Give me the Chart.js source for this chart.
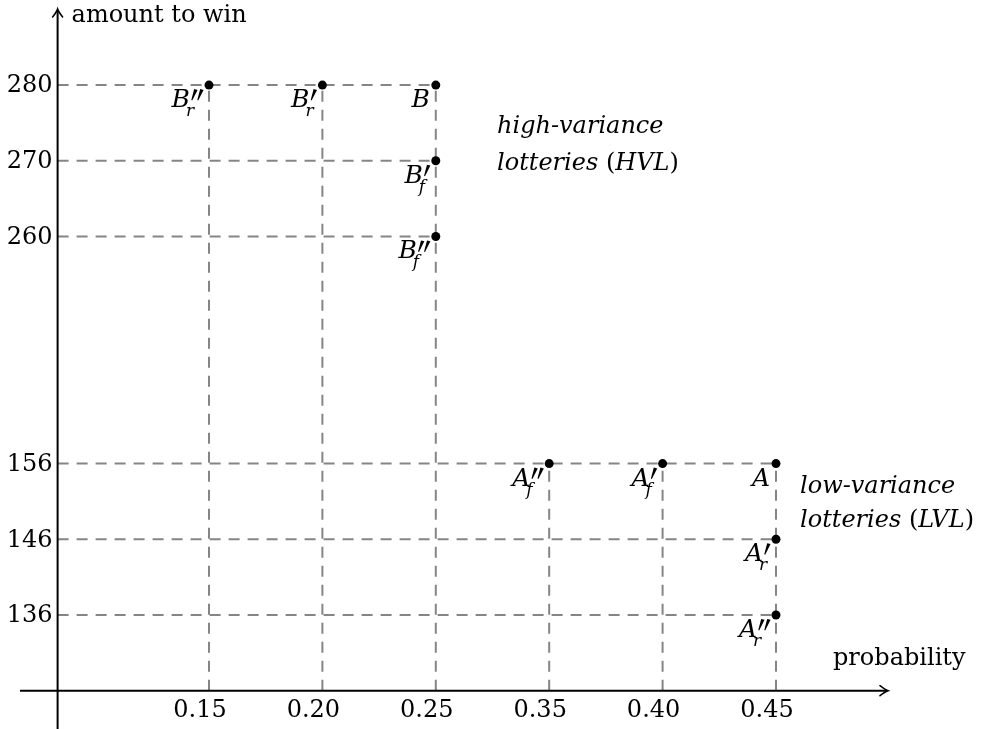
<!DOCTYPE html>
<html>
<head>
<meta charset="utf-8">
<script src="https://cdn.jsdelivr.net/npm/chart.js@4.4.0/dist/chart.umd.min.js"></script>
<style>
html,body{margin:0;padding:0;background:#fff;}
#wrap{width:997px;height:729px;}
</style>
</head>
<body>
<div id="wrap"><canvas id="c" width="997" height="729"></canvas></div>
<script>
// ---- data ----
const xTicks = [0.15, 0.20, 0.25, 0.35, 0.40, 0.45];
const yTicks = [136, 146, 156, 260, 270, 280];
const lotteryNames = ["B''_r", "B'_r", "B", "B'_f", "B''_f", "A''_f", "A'_f", "A", "A'_r", "A''_r"];
const probabilities = [0.15, 0.20, 0.25, 0.25, 0.25, 0.35, 0.40, 0.45, 0.45, 0.45];
const amounts = [280, 280, 280, 270, 260, 156, 156, 156, 146, 136];
const xAxisTitle = 'probability';
const yAxisTitle = 'amount to win';

// ---- broken-axis mapping (value -> scale position) ----
const Y_BREAK_GAP = 2;      // extra units in the axis break between 156 and 260
const X_ORIGIN = -1.335;    // where the vertical axis crosses
function xPos(v){ return xTicks.findIndex(t => Math.abs(t - v) < 1e-9); }
function yPos(v){ const i = yTicks.indexOf(v); return i + 1 + (i >= 3 ? Y_BREAK_GAP : 0); }

const SERIF = '"DejaVu Serif", serif';
const DASH = [11, 8];
const GRAY = '#858585';

// dashed guide lines
const guideSets = [];
[...new Set(amounts)].forEach(a => {
  const maxX = Math.max(...probabilities.filter((p, i) => amounts[i] === a).map(xPos));
  guideSets.push({type:'line', data:[{x:X_ORIGIN, y:yPos(a)}, {x:maxX, y:yPos(a)}],
    borderColor:GRAY, borderWidth:2, borderDash:DASH, pointRadius:0, order:2});
});
[...new Set(probabilities)].forEach(p => {
  const maxY = Math.max(...amounts.filter((a, i) => probabilities[i] === p).map(yPos));
  guideSets.push({type:'line', data:[{x:xPos(p), y:0}, {x:xPos(p), y:maxY}],
    borderColor:GRAY, borderWidth:2, borderDash:DASH, pointRadius:0, order:2});
});

const pointSet = {
  type:'scatter',
  data: probabilities.map((p, i) => ({x:xPos(p), y:yPos(amounts[i])})),
  backgroundColor:'#000', borderColor:'#000', pointRadius:4.5, borderWidth:0, order:1
};

function drawArrow(ctx, x, y, dir){
  ctx.save();
  ctx.translate(x, y);
  ctx.rotate(dir);
  ctx.lineWidth = 1.6;
  ctx.lineCap = 'round';
  ctx.beginPath();
  ctx.moveTo(-8, -5);
  ctx.quadraticCurveTo(-3, -1, 0, 0);
  ctx.quadraticCurveTo(-3, 1, -8, 5);
  ctx.stroke();
  ctx.restore();
}

function drawSegments(ctx, segs, x, y){
  segs.forEach(s => {
    ctx.font = (s.it ? 'italic ' : '') + '24px ' + SERIF;
    ctx.fillText(s.t, x, y);
    x += ctx.measureText(s.t).width;
  });
}

function drawPrime(ctx, x, top){
  ctx.beginPath();
  ctx.moveTo(x + 3.2, top);
  ctx.lineTo(x + 6.6, top + 0.8);
  ctx.lineTo(x + 1.2, top + 11.5);
  ctx.lineTo(x + 0.3, top + 11);
  ctx.closePath();
  ctx.fill();
}

function drawName(ctx, name, px, py){
  const m = name.match(/^([A-Z])('*)(?:_(\w))?$/);
  const base = m[1], primes = m[2].length, sub = m[3] || '';
  ctx.font = 'italic 25px ' + SERIF;
  const wB = ctx.measureText(base).width;
  const wP = primes ? primes * 6 + 1 : 0;
  ctx.font = 'italic 17px ' + SERIF;
  const wS = sub ? ctx.measureText(sub).width : 0;
  const total = wB + Math.max(wP + 1, wS - 4, 0);
  const x0 = px - 5 - total;
  const by = py + 22;
  ctx.textAlign = 'left';
  ctx.textBaseline = 'alphabetic';
  ctx.font = 'italic 25px ' + SERIF;
  ctx.fillText(base, x0, by);
  for (let k = 0; k < primes; k++) drawPrime(ctx, x0 + wB + 1 + k * 6, by - 18);
  if (sub){ ctx.font = 'italic 17px ' + SERIF; ctx.fillText(sub, x0 + wB - 4, by + 9); }
}

const decor = {
  id:'decor',
  afterDatasetsDraw(chart){
    const ctx = chart.ctx, xs = chart.scales.x, ys = chart.scales.y;
    const ox = xs.getPixelForValue(X_ORIGIN), oy = ys.getPixelForValue(0);
    ctx.save();
    ctx.fillStyle = '#000'; ctx.strokeStyle = '#000'; ctx.lineWidth = 2;
    // axes
    ctx.beginPath();
    ctx.moveTo(20, oy); ctx.lineTo(887, oy);
    ctx.moveTo(ox, 729); ctx.lineTo(ox, 10);
    ctx.stroke();
    drawArrow(ctx, 888, oy, 0);
    drawArrow(ctx, ox, 9, -Math.PI / 2);
    // tick labels
    ctx.font = '24px ' + SERIF;
    ctx.textBaseline = 'middle';
    ctx.textAlign = 'right';
    yTicks.forEach(v => ctx.fillText(String(v), ox - 5, ys.getPixelForValue(yPos(v)) + 1));
    ctx.textAlign = 'center';
    ctx.textBaseline = 'alphabetic';
    xTicks.forEach(v => ctx.fillText(v.toFixed(2), xs.getPixelForValue(xPos(v)) - 9, oy + 26));
    // axis titles
    ctx.textAlign = 'left';
    ctx.fillText(yAxisTitle, ox + 14, 22);
    ctx.fillText(xAxisTitle, 833, oy - 26);
    // group annotations
    drawSegments(ctx, [{t:'high-variance', it:true}], 497, 133);
    drawSegments(ctx, [{t:'lotteries ', it:true}, {t:'(', it:false}, {t:'HVL', it:true}, {t:')', it:false}], 497, 170);
    drawSegments(ctx, [{t:'low-variance', it:true}], 800, 493);
    drawSegments(ctx, [{t:'lotteries ', it:true}, {t:'(', it:false}, {t:'LVL', it:true}, {t:')', it:false}], 800, 527);
    // point names
    lotteryNames.forEach((n, i) => {
      drawName(ctx, n, xs.getPixelForValue(xPos(probabilities[i])), ys.getPixelForValue(yPos(amounts[i])));
    });
    ctx.restore();
  }
};

new Chart(document.getElementById('c'), {
  data:{ datasets:[...guideSets, pointSet] },
  options:{
    responsive:false, animation:false, devicePixelRatio:1,
    layout:{padding:0, autoPadding:false},
    plugins:{legend:{display:false}, tooltip:{enabled:false}},
    scales:{
      x:{type:'linear', display:false, min:-1.843, max:6.949},
      y:{type:'linear', display:false, min:-0.506, max:9.124}
    }
  },
  plugins:[decor]
});
</script>
</body>
</html>
